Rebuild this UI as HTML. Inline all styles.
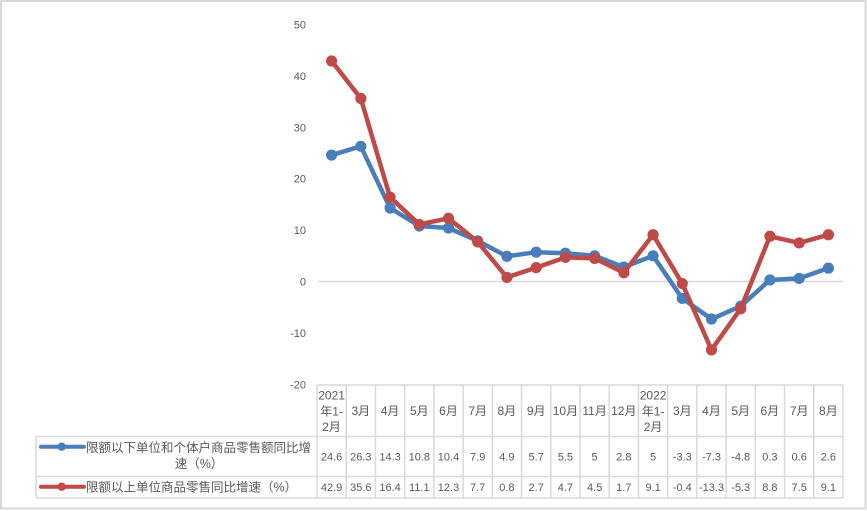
<!DOCTYPE html>
<html><head><meta charset="utf-8"><style>
html,body{margin:0;padding:0;background:#fff;}
svg{display:block;}
text{font-family:"Liberation Sans","Noto Sans CJK SC",sans-serif;fill:#595959;}
</style></head><body>
<svg width="867" height="511" viewBox="0 0 867 511" xmlns="http://www.w3.org/2000/svg">
<rect x="1" y="1" width="864.5" height="507.5" fill="#fff" stroke="#d9d9d9" stroke-width="2"/>
<!-- y axis labels -->
<g font-size="11" text-anchor="end">
<text x="306" y="28.5">50</text>
<text x="306" y="79.9">40</text>
<text x="306" y="131.3">30</text>
<text x="306" y="182.7">20</text>
<text x="306" y="234.1">10</text>
<text x="306" y="285.5">0</text>
<text x="306" y="336.9">-10</text>
<text x="306" y="388.3">-20</text>
</g>
<!-- zero line -->
<line x1="318" y1="281.5" x2="843" y2="281.5" stroke="#d9d9d9" stroke-width="1.5"/>
<!-- table grid -->
<g stroke="#d9d9d9" stroke-width="1.5" fill="none">
<line x1="317" y1="385" x2="843" y2="385"/>
<line x1="36" y1="436.5" x2="843" y2="436.5"/>
<line x1="36" y1="476.5" x2="843" y2="476.5"/>
<line x1="36" y1="498" x2="843" y2="498"/>
<line x1="36" y1="436.5" x2="36" y2="498"/>
<line x1="317" y1="385" x2="317" y2="498"/>
<line x1="346.22" y1="385" x2="346.22" y2="498"/>
<line x1="375.44" y1="385" x2="375.44" y2="498"/>
<line x1="404.67" y1="385" x2="404.67" y2="498"/>
<line x1="433.89" y1="385" x2="433.89" y2="498"/>
<line x1="463.11" y1="385" x2="463.11" y2="498"/>
<line x1="492.33" y1="385" x2="492.33" y2="498"/>
<line x1="521.56" y1="385" x2="521.56" y2="498"/>
<line x1="550.78" y1="385" x2="550.78" y2="498"/>
<line x1="580" y1="385" x2="580" y2="498"/>
<line x1="609.22" y1="385" x2="609.22" y2="498"/>
<line x1="638.44" y1="385" x2="638.44" y2="498"/>
<line x1="667.67" y1="385" x2="667.67" y2="498"/>
<line x1="696.89" y1="385" x2="696.89" y2="498"/>
<line x1="726.11" y1="385" x2="726.11" y2="498"/>
<line x1="755.33" y1="385" x2="755.33" y2="498"/>
<line x1="784.56" y1="385" x2="784.56" y2="498"/>
<line x1="813.78" y1="385" x2="813.78" y2="498"/>
<line x1="843" y1="385" x2="843" y2="498"/>
</g>
<!-- header -->
<g font-size="12" text-anchor="middle">
<text x="331.6" y="399.3">2021</text>
<text x="331.6" y="415.3">年1-</text>
<text x="331.6" y="430.8">2月</text>
<text x="360.8" y="415">3月</text>
<text x="390.1" y="415">4月</text>
<text x="419.3" y="415">5月</text>
<text x="448.5" y="415">6月</text>
<text x="477.7" y="415">7月</text>
<text x="506.9" y="415">8月</text>
<text x="536.2" y="415">9月</text>
<text x="565.4" y="415">10月</text>
<text x="594.6" y="415">11月</text>
<text x="623.8" y="415">12月</text>
<text x="653.1" y="399.3">2022</text>
<text x="653.1" y="415.3">年1-</text>
<text x="653.1" y="430.8">2月</text>
<text x="682.3" y="415">3月</text>
<text x="711.5" y="415">4月</text>
<text x="740.7" y="415">5月</text>
<text x="769.9" y="415">6月</text>
<text x="799.2" y="415">7月</text>
<text x="828.4" y="415">8月</text>
</g>
<!-- data row 1 -->
<g font-size="11" text-anchor="middle">
<text x="331.6" y="460.7">24.6</text>
<text x="360.8" y="460.7">26.3</text>
<text x="390.1" y="460.7">14.3</text>
<text x="419.3" y="460.7">10.8</text>
<text x="448.5" y="460.7">10.4</text>
<text x="477.7" y="460.7">7.9</text>
<text x="506.9" y="460.7">4.9</text>
<text x="536.2" y="460.7">5.7</text>
<text x="565.4" y="460.7">5.5</text>
<text x="594.6" y="460.7">5</text>
<text x="623.8" y="460.7">2.8</text>
<text x="653.1" y="460.7">5</text>
<text x="682.3" y="460.7">-3.3</text>
<text x="711.5" y="460.7">-7.3</text>
<text x="740.7" y="460.7">-4.8</text>
<text x="769.9" y="460.7">0.3</text>
<text x="799.2" y="460.7">0.6</text>
<text x="828.4" y="460.7">2.6</text>
</g>
<!-- data row 2 -->
<g font-size="11" text-anchor="middle">
<text x="331.6" y="491">42.9</text>
<text x="360.8" y="491">35.6</text>
<text x="390.1" y="491">16.4</text>
<text x="419.3" y="491">11.1</text>
<text x="448.5" y="491">12.3</text>
<text x="477.7" y="491">7.7</text>
<text x="506.9" y="491">0.8</text>
<text x="536.2" y="491">2.7</text>
<text x="565.4" y="491">4.7</text>
<text x="594.6" y="491">4.5</text>
<text x="623.8" y="491">1.7</text>
<text x="653.1" y="491">9.1</text>
<text x="682.3" y="491">-0.4</text>
<text x="711.5" y="491">-13.3</text>
<text x="740.7" y="491">-5.3</text>
<text x="769.9" y="491">8.8</text>
<text x="799.2" y="491">7.5</text>
<text x="828.4" y="491">9.1</text>
</g>
<!-- legend -->
<line x1="41" y1="446.7" x2="84" y2="446.7" stroke="#4a7ebb" stroke-width="4" stroke-linecap="round"/>
<circle cx="61.7" cy="446.7" r="4.2" fill="#4a7ebb"/>
<line x1="41" y1="486.7" x2="84" y2="486.7" stroke="#be4b48" stroke-width="4" stroke-linecap="round"/>
<circle cx="61.7" cy="486.7" r="4.2" fill="#be4b48"/>
<g font-size="12.5">
<text x="86" y="452">限额以下单位和个体户商品零售额同比增</text>
<text x="199" y="468" text-anchor="middle">速（%）</text>
<text x="86" y="491.5">限额以上单位商品零售同比增速（%）</text>
</g>
<!-- blue series -->
<polyline fill="none" stroke="#4a7ebb" stroke-width="4.5" stroke-linejoin="round" stroke-linecap="round"
points="331.61,155.06 360.83,146.32 390.06,208 419.28,225.99 448.5,228.04 477.72,240.89 506.94,256.31 536.17,252.2 565.39,253.23 594.61,255.8 623.83,267.11 653.06,255.8 682.28,298.46 711.5,319.02 740.72,306.17 769.94,279.96 799.17,278.42 828.39,268.14"/>
<g fill="#4a7ebb">
<circle cx="331.61" cy="155.06" r="5.6"/><circle cx="360.83" cy="146.32" r="5.6"/><circle cx="390.06" cy="208" r="5.6"/><circle cx="419.28" cy="225.99" r="5.6"/><circle cx="448.5" cy="228.04" r="5.6"/><circle cx="477.72" cy="240.89" r="5.6"/><circle cx="506.94" cy="256.31" r="5.6"/><circle cx="536.17" cy="252.2" r="5.6"/><circle cx="565.39" cy="253.23" r="5.6"/><circle cx="594.61" cy="255.8" r="5.6"/><circle cx="623.83" cy="267.11" r="5.6"/><circle cx="653.06" cy="255.8" r="5.6"/><circle cx="682.28" cy="298.46" r="5.6"/><circle cx="711.5" cy="319.02" r="5.6"/><circle cx="740.72" cy="306.17" r="5.6"/><circle cx="769.94" cy="279.96" r="5.6"/><circle cx="799.17" cy="278.42" r="5.6"/><circle cx="828.39" cy="268.14" r="5.6"/>
</g>
<!-- red series -->
<polyline fill="none" stroke="#be4b48" stroke-width="4.5" stroke-linejoin="round" stroke-linecap="round"
points="331.61,60.99 360.83,98.52 390.06,197.2 419.28,224.45 448.5,218.28 477.72,241.92 506.94,277.39 536.17,267.62 565.39,257.34 594.61,258.37 623.83,272.76 653.06,234.73 682.28,283.56 711.5,349.86 740.72,308.74 769.94,236.27 799.17,242.95 828.39,234.73"/>
<g fill="#be4b48">
<circle cx="331.61" cy="60.99" r="5.6"/><circle cx="360.83" cy="98.52" r="5.6"/><circle cx="390.06" cy="197.2" r="5.6"/><circle cx="419.28" cy="224.45" r="5.6"/><circle cx="448.5" cy="218.28" r="5.6"/><circle cx="477.72" cy="241.92" r="5.6"/><circle cx="506.94" cy="277.39" r="5.6"/><circle cx="536.17" cy="267.62" r="5.6"/><circle cx="565.39" cy="257.34" r="5.6"/><circle cx="594.61" cy="258.37" r="5.6"/><circle cx="623.83" cy="272.76" r="5.6"/><circle cx="653.06" cy="234.73" r="5.6"/><circle cx="682.28" cy="283.56" r="5.6"/><circle cx="711.5" cy="349.86" r="5.6"/><circle cx="740.72" cy="308.74" r="5.6"/><circle cx="769.94" cy="236.27" r="5.6"/><circle cx="799.17" cy="242.95" r="5.6"/><circle cx="828.39" cy="234.73" r="5.6"/>
</g>
</svg>
</body></html>
